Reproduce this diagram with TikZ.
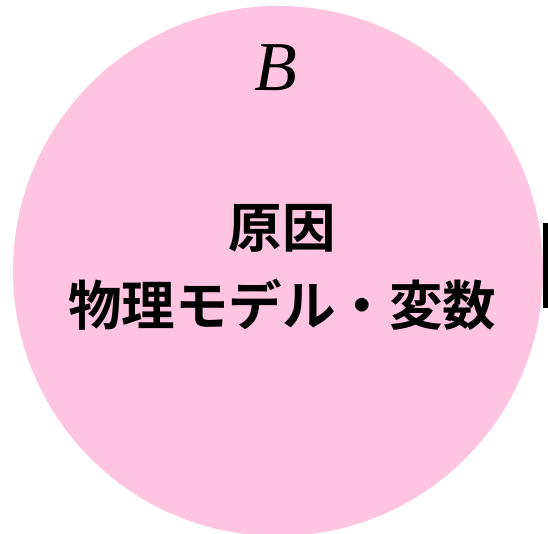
\documentclass[tikz,border=0pt]{standalone}
\usepackage{fontspec}
\setmainfont{Liberation Serif}
\newfontfamily\cjkbold[BoldFont=*]{Noto Sans CJK JP Bold}
\definecolor{pinkfill}{HTML}{FEC4E0}
\begin{document}
\begin{tikzpicture}[x=1pt,y=1pt,
  circ/.style={circle,fill=pinkfill,draw=none,minimum size=530pt,inner sep=0pt},
  lbl/.style={font=\fontsize{70}{70}\selectfont\itshape,inner sep=0pt},
  body/.style={font=\cjkbold\fontsize{53.5}{78}\selectfont,align=center,inner sep=0pt}]
\useasboundingbox (0,0) rectangle (548,534);
\node[circ] (c) at (278,263) {};
\node[lbl] (b) at (276,466) {B};
\node[body] (t) at (282,267) {原因\\物理モデル・変数};
\fill (543,226) rectangle (552,311);
\end{tikzpicture}
\end{document}
